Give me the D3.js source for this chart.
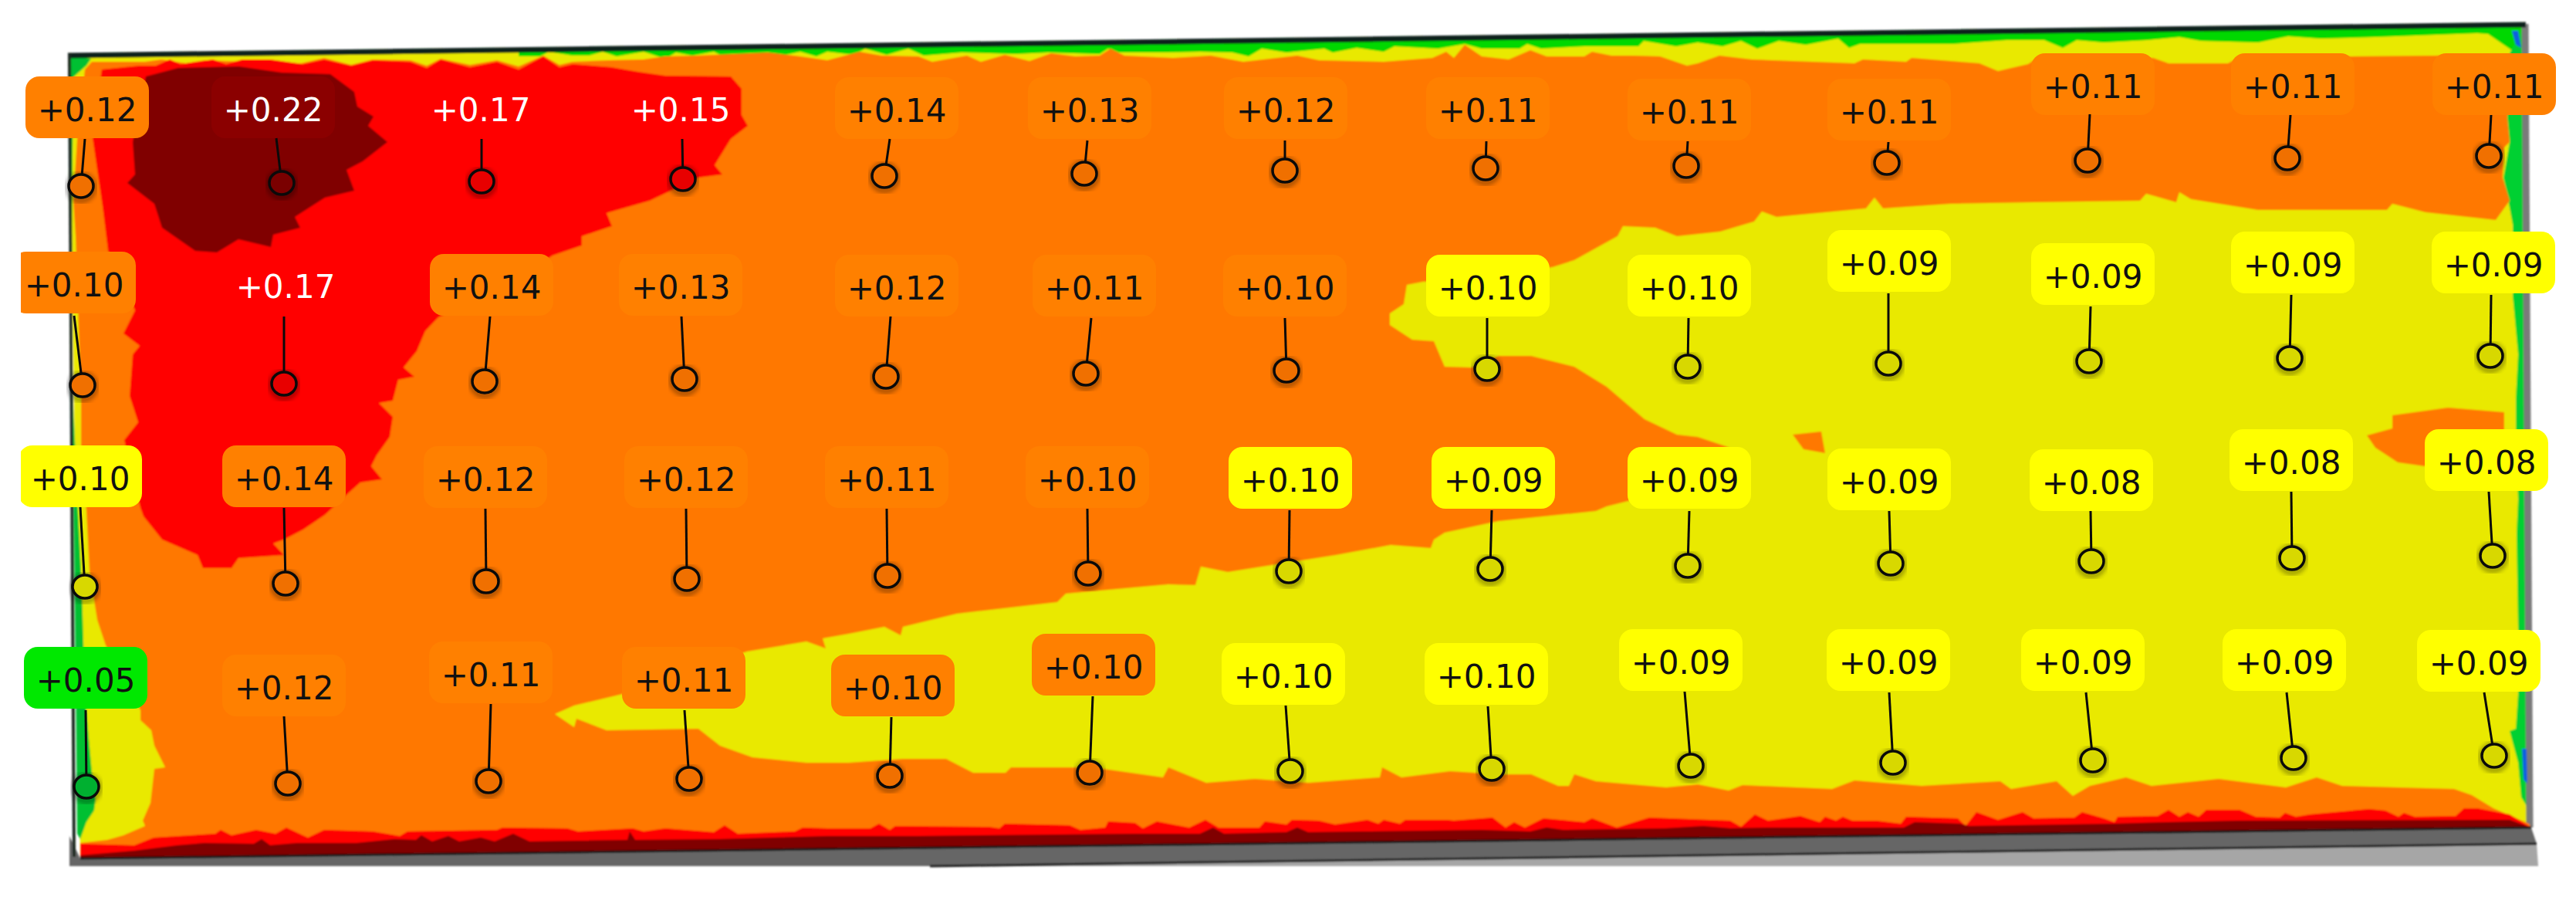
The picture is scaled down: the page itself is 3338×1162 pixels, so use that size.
<!DOCTYPE html>
<html>
<head>
<meta charset="utf-8">
<style>
html, body { margin: 0; padding: 0; background: #fff; overflow: hidden; }
svg { display: block; }
text { font-family: "DejaVu Sans", sans-serif; }
</style>
</head>
<body>
<svg id="chart"></svg>
<script src="https://cdn.jsdelivr.net/npm/d3@7"></script>
<script>
// measuring points, row by row (plate units)
const probeValues = [
    [0.12, 0.22, 0.17, 0.15, 0.14, 0.13, 0.12, 0.11, 0.11, 0.11, 0.11, 0.11, 0.11],
    [0.10, 0.17, 0.14, 0.13, 0.12, 0.11, 0.10, 0.10, 0.10, 0.09, 0.09, 0.09, 0.09],
    [0.10, 0.14, 0.12, 0.12, 0.11, 0.10, 0.10, 0.09, 0.09, 0.09, 0.08, 0.08, 0.08],
    [0.05, 0.12, 0.11, 0.11, 0.10, 0.10, 0.10, 0.10, 0.09, 0.09, 0.09, 0.09, 0.09]
]
const probeBands = [
    ['O', 'D', 'R', 'R', 'O', 'O', 'O', 'O', 'O', 'O', 'O', 'O', 'O'],
    ['O', 'R', 'O', 'O', 'O', 'O', 'O', 'Y', 'Y', 'Y', 'Y', 'Y', 'Y'],
    ['Y', 'O', 'O', 'O', 'O', 'O', 'Y', 'Y', 'Y', 'Y', 'Y', 'Y', 'Y'],
    ['G', 'O', 'O', 'O', 'O', 'O', 'Y', 'Y', 'Y', 'Y', 'Y', 'Y', 'Y']
]
const pointU = [
    [105, 365, 624, 885, 1146, 1405, 1665, 1925, 2185, 2445, 2705, 2964, 3225],
    [107, 368, 628, 887, 1148, 1407, 1667, 1927, 2187, 2447, 2707, 2967, 3227],
    [110, 370, 630, 890, 1150, 1410, 1670, 1931, 2187, 2450, 2710, 2970, 3230],
    [112, 373, 633, 893, 1153, 1412, 1672, 1933, 2191, 2453, 2712, 2972, 3232]
]
const pointV = [
    [241, 237, 235, 232, 228, 225, 221, 218, 215, 211, 208, 205, 202],
    [499, 497, 494, 491, 488, 484, 480, 478, 475, 471, 468, 464, 461],
    [760, 756, 753, 750, 746, 743, 740, 737, 733, 730, 727, 723, 720],
    [1019, 1015, 1012, 1009, 1005, 1001, 999, 996, 992, 988, 985, 982, 979]
]
const tipU = [
    [110, 358, 624, 884, 1153, 1409, 1665, 1926, 2187, 2447, 2708, 2968, 3228],
    [96, 368, 635, 883, 1154, 1414, 1665, 1927, 2188, 2447, 2709, 2969, 3228],
    [104, 368, 629, 889, 1149, 1409, 1671, 1933, 2189, 2448, 2709, 2969, 3225],
    [111, 368, 636, 887, 1155, 1416, 1666, 1928, 2183, 2448, 2703, 2963, 3219]
]
const tipV = [
    [180, 179, 180, 180, 180, 182, 182, 183, 183, 184, 148, 149, 149],
    [409, 410, 410, 410, 410, 412, 412, 412, 412, 380, 397, 382, 382],
    [657, 658, 659, 659, 659, 659, 661, 661, 662, 662, 662, 637, 637],
    [920, 928, 912, 920, 929, 902, 914, 915, 896, 897, 897, 897, 897]
]
const labelU = [
    [113, 354, 623, 882, 1162, 1412, 1666, 1928, 2189, 2448, 2712, 2971, 3232],
    [96, 370, 637, 882, 1162, 1418, 1665, 1928, 2189, 2448, 2712, 2971, 3231],
    [104, 368, 629, 889, 1149, 1409, 1672, 1935, 2189, 2448, 2710, 2969, 3222],
    [111, 368, 636, 886, 1157, 1417, 1663, 1926, 2178, 2447, 2699, 2960, 3212]
]
const labelV = [
    [142, 142, 142, 142, 143, 143, 143, 143, 145, 145, 112, 112, 112],
    [369, 371, 372, 372, 373, 373, 373, 373, 373, 341, 358, 343, 343],
    [620, 620, 621, 621, 621, 621, 622, 622, 622, 624, 625, 599, 599],
    [881, 891, 874, 881, 891, 864, 876, 876, 858, 858, 858, 858, 859]
]

// result bands, outlines
const plateOutline = [[90, 72], [3272, 33], [3280, 1072], [104, 1112]]
const orangeOutline = [
    [119, 80], [188, 80], [209, 77], [241, 82], [265, 78], [320, 80], [390, 82], [420, 75], [455, 84], [483, 77], [532, 78],
    [553, 85], [571, 76], [609, 84], [644, 78], [672, 86], [704, 72], [725, 84], [742, 80], [790, 78], [834, 77], [861, 73],
    [904, 72], [995, 68], [1037, 73], [1072, 78], [1114, 67], [1142, 72], [1190, 73], [1208, 80], [1253, 72], [1271, 80],
    [1302, 71], [1334, 79], [1362, 69], [1393, 73], [1425, 72], [1439, 63], [1457, 72], [1520, 75], [1569, 72], [1611, 80],
    [1681, 72], [1709, 78], [1793, 80], [1856, 75], [1874, 67], [1884, 75], [1898, 58], [1920, 73], [1955, 77], [1983, 65],
    [2004, 73], [2053, 73], [2063, 67], [2088, 72], [2116, 72], [2151, 73], [2186, 85], [2200, 82], [2228, 72], [2270, 77],
    [2403, 82], [2414, 77], [2470, 80], [2477, 75], [2565, 82], [2589, 92], [2628, 83], [2640, 75], [2790, 75], [2810, 82],
    [2887, 82], [2900, 75], [3049, 73], [3154, 72], [3252, 70],
    [3249, 153], [3252, 184], [3245, 191], [3243, 230], [3252, 260], [3234, 285], [3143, 275], [3100, 264],
    [3093, 272], [2998, 272], [2926, 272], [2839, 258], [2824, 249], [2820, 262], [2781, 251], [2773, 260],
    [2635, 262], [2527, 264], [2440, 270], [2429, 256], [2418, 270], [2302, 281], [2283, 274], [2273, 287],
    [2229, 300], [2173, 306], [2145, 295], [2103, 293], [2096, 306], [2040, 337], [2012, 346], [1900, 362],
    [1844, 365], [1823, 369], [1819, 394], [1801, 406], [1801, 421], [1830, 440], [1858, 442], [1872, 475],
    [1907, 476], [1942, 461], [1984, 461], [2040, 475], [2082, 501], [2131, 543], [2173, 563], [2200, 566],
    [2236, 578], [2265, 590], [2150, 630], [2110, 649], [2082, 656], [2068, 662], [1942, 675], [1872, 690],
    [1858, 699], [1854, 710], [1802, 706], [1731, 719], [1591, 741], [1556, 734], [1549, 758], [1514, 757],
    [1381, 769], [1370, 780], [1240, 795], [1170, 812], [1167, 823], [1146, 812], [1100, 821], [1066, 827],
    [1070, 840], [1045, 831], [968, 844], [807, 899], [744, 914], [719, 925], [744, 942], [747, 931], [786, 946],
    [905, 944], [933, 966], [975, 981], [1045, 988], [1100, 988], [1170, 983], [1226, 983], [1261, 1001],
    [1303, 1001], [1310, 994], [1416, 994], [1507, 1007], [1514, 994], [1563, 1014], [1626, 1009], [1696, 1014],
    [1788, 1007], [1791, 994], [1816, 1007], [1879, 999], [1942, 1003], [1984, 1003], [2019, 1018], [2033, 1018],
    [2040, 1003], [2068, 1012], [2159, 1020], [2200, 1016], [2240, 1024], [2258, 1017], [2374, 1022], [2403, 1011],
    [2490, 1018], [2592, 1012], [2606, 1022], [2665, 1012], [2686, 1031], [2708, 1018], [2755, 1007], [2788, 1018],
    [2875, 1009], [2962, 1020], [3002, 1007], [3035, 1018], [3180, 1022], [3203, 1030], [3231, 1047], [3277, 1067],
    [3280, 1072], [104, 1112], [104, 1092], [139, 1088], [160, 1082], [188, 1070], [185, 1063], [195, 1040], [200, 996],
    [214, 994], [200, 966], [196, 946], [182, 933], [182, 920], [137, 836], [126, 803], [116, 740], [112, 662], [105, 578],
    [105, 517], [98, 306], [95, 260], [100, 180], [110, 90]
]
const orangeBlobs = [
    [[3100, 538], [3172, 528], [3245, 534], [3245, 560], [3142, 604], [3107, 599], [3078, 580], [3067, 564], [3100, 555]],
    [[2323, 563], [2360, 559], [2365, 587], [2337, 582]]
]
const redOutline = [
    [132, 90], [181, 85], [202, 85], [220, 77], [234, 83], [276, 77], [293, 83], [314, 77], [350, 77], [392, 83], [420, 77],
    [455, 85], [483, 78], [532, 80], [553, 88], [571, 77], [609, 87], [644, 80], [672, 90], [704, 73], [725, 87], [742, 83],
    [792, 87], [827, 93], [862, 98], [947, 99], [961, 115], [961, 149],
    [969, 163], [947, 180], [926, 214], [936, 226], [905, 230], [842, 260], [786, 276], [793, 293], [754, 306],
    [754, 318], [716, 331], [640, 380], [568, 411], [551, 429], [540, 455], [523, 476], [537, 488], [516, 492],
    [509, 519], [491, 522], [509, 540], [505, 566], [488, 590], [481, 604], [495, 621], [467, 625], [449, 641],
    [421, 667], [393, 686], [368, 699], [354, 704], [368, 719], [309, 723], [300, 736], [263, 736], [256, 719],
    [210, 699], [186, 669], [182, 658], [161, 570], [179, 547], [168, 513], [172, 459], [181, 448], [160, 432],
    [175, 402], [140, 325], [133, 268], [119, 172]
]
const darkOutline = [
    [189, 99], [231, 88], [309, 86], [365, 94], [428, 96], [459, 119], [463, 138], [484, 151], [477, 163], [502, 184],
    [470, 209], [449, 220], [459, 247], [421, 256], [382, 281], [389, 295], [354, 304], [351, 320], [309, 310],
    [281, 327], [253, 325], [210, 295], [200, 264], [165, 237], [175, 226], [172, 184]
]
const bottomRed = [
    [104, 1093], [174, 1095], [199, 1085], [279, 1080], [286, 1075], [300, 1082], [332, 1075], [357, 1080], [371, 1072],
    [399, 1085], [420, 1075], [483, 1077], [518, 1083], [528, 1077], [644, 1075], [651, 1072], [735, 1073], [749, 1077],
    [820, 1073], [834, 1077], [862, 1073], [925, 1078], [939, 1069], [956, 1080], [1030, 1077], [1040, 1072], [1072, 1073],
    [1128, 1073], [1139, 1067], [1153, 1075], [1160, 1070], [1281, 1071], [1295, 1073], [1302, 1067], [1386, 1069],
    [1400, 1075], [1432, 1072], [1436, 1064], [1471, 1066], [1481, 1073], [1499, 1064], [1541, 1072], [1562, 1062],
    [1579, 1072], [1632, 1072], [1639, 1064], [1667, 1068], [1674, 1062], [1709, 1063], [1730, 1068], [1772, 1062],
    [1786, 1067], [1793, 1062], [1814, 1067], [1821, 1062], [1874, 1062], [1884, 1063], [1934, 1059], [1951, 1072],
    [1962, 1065], [1976, 1072], [2000, 1060], [2053, 1065], [2063, 1060], [2095, 1072], [2137, 1059], [2242, 1063],
    [2256, 1071], [2274, 1055], [2291, 1063], [2333, 1057], [2358, 1065], [2365, 1058], [2379, 1063], [2388, 1058],
    [2400, 1063], [2431, 1063], [2463, 1067], [2470, 1058], [2537, 1060], [2547, 1070], [2561, 1052], [2589, 1062],
    [2621, 1052], [2635, 1060], [2688, 1059], [2698, 1052], [2726, 1060], [2740, 1065], [2744, 1058], [2796, 1057],
    [2810, 1049], [2824, 1058], [2835, 1052], [2849, 1058], [2859, 1049], [2902, 1049], [2923, 1058], [2954, 1059],
    [2961, 1053], [2975, 1058], [2993, 1055], [3070, 1048], [3091, 1050], [3108, 1058], [3115, 1053], [3129, 1058],
    [3182, 1057], [3193, 1047], [3210, 1047], [3252, 1055], [3280, 1072], [104, 1112]
]
const bottomDark = [
    [104, 1108], [174, 1102], [230, 1095], [265, 1092], [329, 1093], [339, 1087], [350, 1095], [385, 1092], [462, 1092],
    [511, 1087], [539, 1088], [546, 1082], [560, 1090], [581, 1083], [595, 1090], [623, 1085], [641, 1090], [665, 1080],
    [686, 1090], [813, 1088], [816, 1077], [823, 1088], [932, 1087], [1002, 1085], [1072, 1083], [1190, 1083], [1274, 1082],
    [1471, 1080], [1555, 1080], [1572, 1072], [1586, 1080], [1667, 1078], [1681, 1072], [1695, 1078], [1920, 1075],
    [1983, 1077], [2004, 1072], [2025, 1075], [2158, 1073], [2207, 1070], [2242, 1073], [2290, 1072], [2467, 1072],
    [2481, 1065], [2540, 1067], [2551, 1070], [2740, 1067], [2810, 1065], [2902, 1063], [3252, 1062], [3280, 1072],
    [104, 1112]
]
const topGreen = [
    [672, 73], [700, 73], [711, 67], [742, 72], [763, 72], [781, 67], [799, 73], [834, 67], [862, 76], [876, 68], [897, 72],
    [925, 67], [935, 72], [960, 70], [995, 72], [1009, 73], [1037, 67], [1058, 73], [1072, 67], [1107, 71], [1121, 63],
    [1149, 71], [1177, 63], [1197, 72], [1246, 68], [1316, 70], [1358, 68], [1425, 70], [1436, 63], [1450, 68], [1506, 68],
    [1555, 67], [1597, 68], [1618, 73], [1635, 63], [1667, 68], [1716, 63], [1727, 68], [1758, 62], [1793, 67], [1807, 60],
    [1863, 63], [1898, 57], [1920, 63], [1969, 63], [1979, 57], [1997, 63], [2053, 60], [2123, 60], [2130, 53], [2172, 60],
    [2200, 55], [2232, 60], [2256, 53], [2277, 63], [2305, 53], [2340, 58], [2382, 50], [2396, 62], [2410, 57], [2481, 57],
    [2530, 57], [2600, 52], [2649, 52], [2673, 62], [2691, 52], [2726, 55], [2782, 52], [2824, 48], [2852, 53], [2926, 55],
    [2965, 47], [3007, 50], [3077, 48], [3210, 43], [3224, 44], [3259, 68], [3272, 33], [672, 64]
]
const rightGreen = [
    [3252, 69], [3249, 153], [3252, 184], [3244, 230], [3249, 253], [3256, 291], [3256, 383], [3263, 459], [3260, 517],
    [3260, 555], [3263, 647], [3261, 691], [3263, 814], [3263, 899], [3260, 944], [3252, 947], [3263, 988], [3267, 1033],
    [3278, 1050], [3280, 1072], [3272, 33]
]
const leftGreen = [
    [90, 72], [118, 76], [112, 85], [95, 100], [93, 300], [94, 500], [100, 640], [106, 760], [110, 900], [119, 1000],
    [124, 1035], [122, 1050], [112, 1065], [104, 1087], [100, 1080]
]
const blueSpots = [
    [[3255, 40], [3263, 40], [3267, 62], [3260, 58]],
    [[3268, 970], [3274, 970], [3275, 1015], [3270, 1010]]
]

// supporting beam under the plate
const beamDark = [[90, 1122], [90, 1083], [104, 1112], [3280, 1072], [3287, 1093], [1205, 1122]]
const beamLight = [[1205, 1122], [3287, 1093], [3289, 1122]]
const topEdge = [[88, 72], [3273, 32]]
const leftEdge = [[90, 70], [96, 1110]]
const rightEdge = [[3272, 31], [3278, 1072]]
const beamLineTop = [[104, 1112], [3280, 1072]]
const beamLineBottom = [[1205, 1122], [3287, 1093]]

const BAND_FILL = { D: '#8b0000', R: '#ff0000', O: '#ff8000', Y: '#ffff00', G: '#00e800' }
const POINT_FILL = { D: '#7a0000', R: '#e80000', O: '#f07000', Y: '#d8d800', G: '#00b030' }
const WIDTH = 3338
const HEIGHT = 1162
const BOX_WIDTH = 160
const BOX_HEIGHT = 80
const POINT_RX = 16
const POINT_RY = 15

const x = d3.scaleLinear().domain([0, 3338]).range([0, WIDTH])
const y = d3.scaleLinear().domain([0, 1162]).range([0, HEIGHT])
const line = d3.line().x(d => x(d[0])).y(d => y(d[1]))
const shape = pts => line(pts) + 'Z'

const svg = d3.select('#chart').attr('width', WIDTH).attr('height', HEIGHT)
const defs = svg.append('defs')
defs.append('filter').attr('id', 'soft').append('feGaussianBlur').attr('stdDeviation', 1.2)
defs.append('filter').attr('id', 'halo').append('feGaussianBlur').attr('stdDeviation', 3)
defs.append('clipPath').attr('id', 'page').append('rect')
    .attr('x', 27).attr('y', 0).attr('width', WIDTH - 27).attr('height', HEIGHT)

const plate = svg.append('g').attr('filter', 'url(#soft)')
const addShape = (pts, fill) => plate.append('path').attr('d', shape(pts)).attr('fill', fill)
const addEdge = (pts, color, width) => plate.append('path').attr('d', line(pts))
    .attr('fill', 'none').attr('stroke', color).attr('stroke-width', width)

addShape(beamLight, '#a6a6a6')
addShape(beamDark, '#666666')
addShape(plateOutline, '#e9e900')
addShape(topGreen, '#00d800')
addShape(rightGreen, '#00d030')
addEdge(rightEdge, '#7a7a7a', 9)
blueSpots.forEach(b => addShape(b, '#1060e0'))
addShape(leftGreen, '#00c030')
addShape(orangeOutline, '#ff7800')
orangeBlobs.forEach(b => addShape(b, '#ff7800'))
addShape(redOutline, '#ff0000')
addShape(darkOutline, '#800000')
addShape(bottomRed, '#ff0000')
addShape(bottomDark, '#800000')
addEdge(topEdge, '#10201a', 7)
addEdge(leftEdge, '#1c2a20', 4)
addEdge(beamLineTop, '#141414', 3)
addEdge(beamLineBottom, '#1e1e1e', 3)

const probes = []
probeValues.forEach((row, r) => {
    row.forEach((value, c) => {
        probes.push({
            value,
            band: probeBands[r][c],
            u: pointU[r][c],
            v: pointV[r][c],
            tipU: tipU[r][c],
            tipV: tipV[r][c],
            labelU: labelU[r][c],
            labelV: labelV[r][c]
        })
    })
})

const labels = svg.append('g').attr('clip-path', 'url(#page)')

labels.selectAll('rect').data(probes.filter(d => d.band !== 'R')).join('rect')
    .attr('x', d => x(d.labelU) - BOX_WIDTH / 2)
    .attr('y', d => y(d.labelV) - BOX_HEIGHT / 2 - 3)
    .attr('width', BOX_WIDTH)
    .attr('height', BOX_HEIGHT)
    .attr('rx', 18)
    .attr('fill', d => BAND_FILL[d.band])

const marks = svg.append('g')

marks.selectAll('ellipse.halo').data(probes).join('ellipse')
    .attr('class', 'halo')
    .attr('cx', d => x(d.u))
    .attr('cy', d => y(d.v) + 2)
    .attr('rx', POINT_RX + 1)
    .attr('ry', POINT_RY + 2)
    .attr('fill', 'none')
    .attr('stroke', '#000')
    .attr('stroke-width', 5)
    .attr('opacity', 0.45)
    .attr('filter', 'url(#halo)')

marks.selectAll('line').data(probes).join('line')
    .attr('x1', d => x(d.tipU))
    .attr('y1', d => y(d.tipV))
    .attr('x2', d => x(d.u))
    .attr('y2', d => y(d.v))
    .attr('stroke', '#0a0a0a')
    .attr('stroke-width', 3)

marks.selectAll('ellipse.point').data(probes).join('ellipse')
    .attr('class', 'point')
    .attr('cx', d => x(d.u))
    .attr('cy', d => y(d.v))
    .attr('rx', POINT_RX)
    .attr('ry', POINT_RY)
    .attr('fill', d => POINT_FILL[d.band])
    .attr('stroke', '#0a0a0a')
    .attr('stroke-width', 3.5)

labels.selectAll('text').data(probes).join('text')
    .attr('x', d => x(d.labelU))
    .attr('y', d => y(d.labelV))
    .attr('dy', '0.365em')
    .attr('text-anchor', 'middle')
    .attr('font-size', 42)
    .attr('fill', d => (d.band === 'R' || d.band === 'D') ? '#fff' : '#111')
    .text(d => '+' + d.value.toFixed(2))
</script>
</body>
</html>
